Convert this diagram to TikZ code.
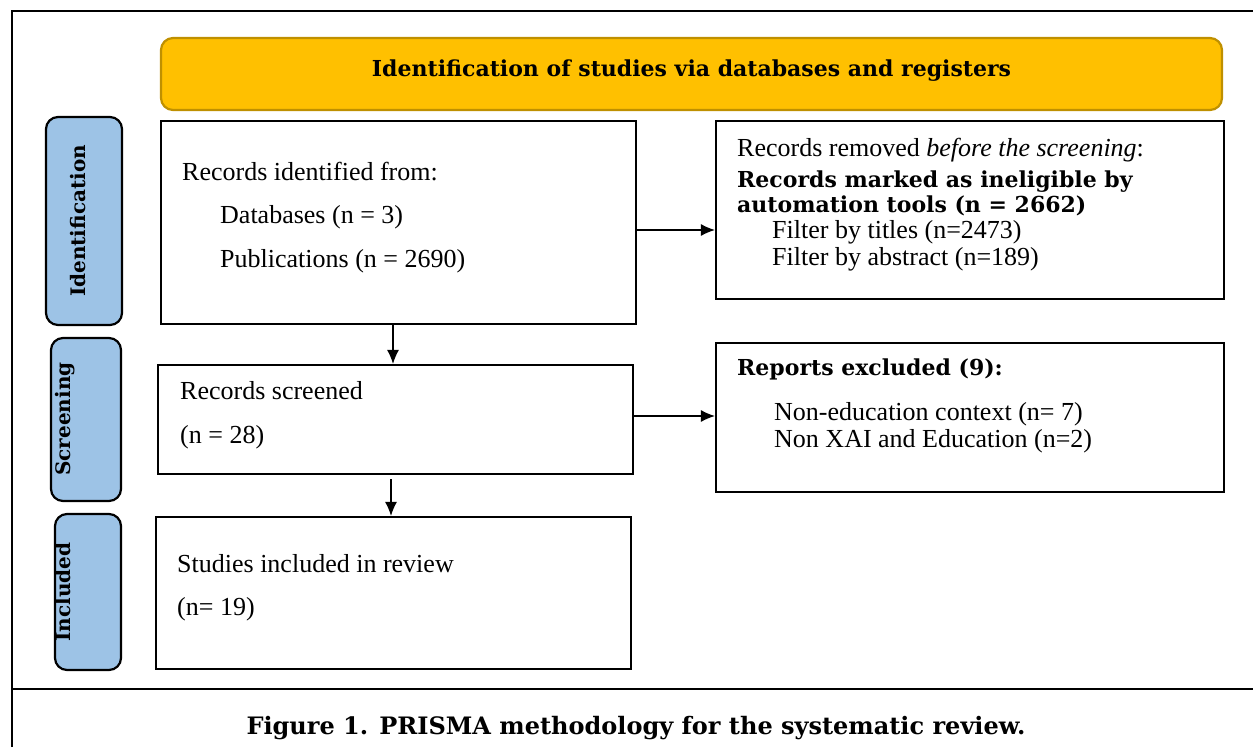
\documentclass[tikz,border=0pt]{standalone}
\usepackage{fontspec}
\setmainfont{Liberation Serif}
\newfontfamily\heavyserif{DejaVu Serif}
\usetikzlibrary{arrows.meta}
\definecolor{hdrfill}{HTML}{FFC000}
\definecolor{hdrdraw}{HTML}{BF9000}
\definecolor{sideblue}{HTML}{9DC3E6}
\begin{document}
\begin{tikzpicture}[x=1pt,y=-1pt,
  box/.style={draw=black,line width=2.2pt,fill=white,inner sep=0pt},
  sidebox/.style={draw=black,line width=2.2pt,fill=sideblue,rounded corners=12pt,inner sep=0pt},
  txt/.style={anchor=base west,inner sep=0pt,font=\fontsize{26}{30}\selectfont},
  btxt/.style={anchor=base west,inner sep=0pt,font=\fontsize{22}{26}\selectfont\heavyserif\bfseries},
  arr/.style={line width=1.2pt,-{Latex[length=14pt,width=12pt]}},
  stxt/.style={rotate=90,anchor=base,inner sep=0pt,font=\fontsize{20}{24}\selectfont\heavyserif\bfseries}]
\useasboundingbox (0,0) rectangle (1253,747);
% outer frame
\draw[line width=2pt] (12,747) -- (12,11) -- (1253,11);
\draw[line width=2.5pt] (12,689) -- (1253,689);
% header
\node[draw=hdrdraw,fill=hdrfill,line width=2.2pt,rounded corners=12pt,minimum width=1061pt,minimum height=72pt,inner sep=0pt] (hdr) at (691.5,74) {};
\node[anchor=base,inner sep=0pt,font=\fontsize{22}{26}\selectfont\heavyserif\bfseries] (hdrt) at (691.5,76) {Identification of studies via databases and registers};
% side labels
\node[sidebox,minimum width=76pt,minimum height=208pt] (sid) at (84,221) {};
\node[stxt] (sidt) at (85,221) {Identification};
\node[sidebox,minimum width=70pt,minimum height=163pt] (ssc) at (86,419.5) {};
\node[stxt] (ssct) at (70,419) {Screening};
\node[sidebox,minimum width=66pt,minimum height=156pt] (sin) at (88,592) {};
\node[stxt] (sint) at (70,592) {Included};
% boxes
\node[box,minimum width=475pt,minimum height=203pt] (rec) at (398.5,222.5) {};
\node[box,minimum width=508pt,minimum height=178pt] (rem) at (970,210) {};
\node[box,minimum width=475pt,minimum height=109pt] (scr) at (395.5,419.5) {};
\node[box,minimum width=508pt,minimum height=149pt] (exc) at (970,417.5) {};
\node[box,minimum width=475pt,minimum height=152pt] (inc) at (393.5,593) {};
% texts
\node[txt] (t1) at (182,180) {Records identified from:};
\node[txt] (t2) at (220,223) {Databases (n = 3)};
\node[txt] (t3) at (220,267) {Publications (n = 2690)};
\node[txt] (t4) at (737,156) {Records removed \textit{before the screening}:};
\node[btxt] (t5) at (737,187) {Records marked as ineligible by};
\node[btxt] (t6) at (737,212) {automation tools (n = 2662)};
\node[txt] (t7) at (772,238) {Filter by titles (n=2473)};
\node[txt] (t8) at (772,265) {Filter by abstract (n=189)};
\node[txt] (t9) at (180,399) {Records screened};
\node[txt] (t10) at (180,443) {(n = 28)};
\node[btxt] (t11) at (737,375) {Reports excluded (9):};
\node[txt] (t12) at (774,420) {Non-education context (n= 7)};
\node[txt] (t13) at (774,447) {Non XAI and Education (n=2)};
\node[txt] (t14) at (177,572) {Studies included in review};
\node[txt] (t15) at (177,615) {(n= 19)};
% caption
\node[anchor=base,inner sep=0pt,font=\fontsize{24}{28}\selectfont\heavyserif\bfseries] (cap) at (636,734) {Figure 1. PRISMA methodology for the systematic review.};
% arrows
\coordinate (a1) at (0,230);
\coordinate (a2) at (0,416);
\coordinate (d1) at (393,0);
\coordinate (d2) at (391,0);
\draw[arr] (rec.east |- a1) -- (rem.west |- a1);
\draw[arr] (scr.east |- a2) -- (exc.west |- a2);
\draw[arr] (rec.south -| d1) -- (scr.north -| d1);
\draw[arr] ([yshift=-4pt]scr.south -| d2) -- (inc.north -| d2);
\end{tikzpicture}
\end{document}
